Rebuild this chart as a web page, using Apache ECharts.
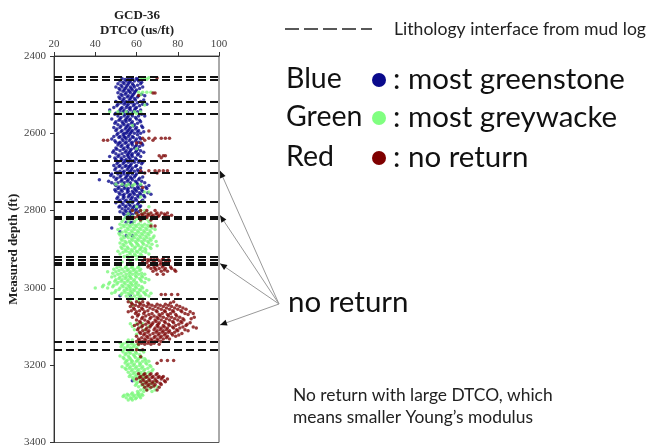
<!DOCTYPE html>
<html><head><meta charset="utf-8">
<script src="https://cdn.jsdelivr.net/npm/echarts@6.0.0/dist/echarts.min.js"></script>
<style>html,body{margin:0;padding:0;background:#fff}#c{width:650px;height:448px}</style>
</head><body><div id="c"></div>
<script>
// Axis ticks
const xTicks = [20, 40, 60, 80, 100];
const yTicks = [2400, 2600, 2800, 3000, 3200, 3400];
// Lithology interfaces from mud log (depth, ft)
const interfaces = [2454, 2461, 2519, 2550, 2670, 2701, 2778, 2815, 2822, 2920, 2927, 2934, 2940, 3029, 3139, 3159];
// Arrow target depths (no return zones) on right border
const arrowDepths = [2697, 2812, 2937, 3096];
// Rows: [depth, DTCO values...]
const blueRows = [
[2458,53,56,58,60],[2465,52,55,57,59,61],[2472,51,54,56,58,62],[2480,50,53,55,57,59,63],
[2488,52,54,56,58,60],[2495,51,55,57,59],[2503,53,56,58,61,64],[2510,52,54,57,59],
[2518,50,53,55,58,62],[2525,51,54,56,59,63,65],[2533,49,53,55,57,60],[2540,47,52,54,57,59,62],
[2548,50,53,56,58],[2555,51,54,56,58,61,64],[2563,48,52,55,57,60],[2570,50,53,55,58,62],
[2578,51,54,56,59],[2585,49,52,55,57,60,63],[2593,50,53,56,58,61],[2600,51,54,55,57,59,62],
[2608,49,52,54,56,58],[2615,48,53,55,57,60,62],[2623,50,52,55,58,61],[2630,51,53,56,58,60,63],
[2638,50,54,56,59],[2645,49,52,55,57,60,62],[2653,50,53,56,58,61],[2660,47,51,54,56,58,62],
[2668,50,53,55,57,60],[2675,51,54,56,59,61,63],[2683,49,52,55,57,60],[2690,50,53,56,58,62],
[2698,52,54,57,59,61],[2705,48,51,54,56,58,60],[2713,49,52,55,57,59,63],[2720,42,50,53,56,58,61],
[2728,48,51,54,57,60,64],[2735,50,53,55,58,62,66],[2743,51,54,56,59,61,65],[2750,50,53,56,58,60,63],
[2758,52,54,57,59,62,67],[2765,51,54,56,58,61,64],[2773,52,55,57,60,63],[2780,50,53,56,58,61],
[2788,52,55,57,59,62],[2795,53,56,58,60],[2803,52,55,57,61],[2810,54,56,58],[2818,55,57],
[2830,55,57,58],[2845,48],[2855,52],[2865,55,58],[3020,52,57],[3240,58],
[2461,54.5,57.5,60.5],[2468,53.5,56.5,62.5],[2476,52.5,55.5,58.5,60.5],[2484,51.5,54.5,57.5,61.5],
[2491,53.5,56.5,59.5],[2499,52.5,54.5,58.5,62.5],[2506,51.5,55.5,57.5,60.5],[2514,53.5,56.5,59.5,63.5],
[2521,52.5,54.5,57.5,60.5],[2529,50.5,55.5,58.5,61.5],[2536,52.5,56.5,59.5],[2544,51.5,53.5,55.5,58.5,60.5],
[2551,49.5,54.5,57.5,62.5],[2559,52.5,55.5,59.5],[2566,51.5,54.5,56.5,61.5],[2574,49.5,53.5,57.5,60.5],
[2581,52.5,55.5,58.5,62.5],[2589,50.5,54.5,56.5,59.5],[2596,52.5,55.5,57.5,60.5,63.5],[2604,50.5,53.5,56.5,60.5],
[2611,51.5,54.5,58.5,61.5],[2619,49.5,53.5,56.5,59.5],[2626,51.5,54.5,57.5,62.5],[2634,52.5,55.5,59.5,61.5],
[2641,50.5,53.5,57.5,60.5],[2649,48.5,54.5,56.5,59.5,63.5],[2656,51.5,55.5,57.5,60.5],[2664,49.5,52.5,56.5,59.5],
[2671,52.5,54.5,58.5,61.5],[2679,50.5,53.5,57.5,62.5],[2686,51.5,54.5,56.5,59.5],[2694,49.5,55.5,57.5,60.5],
[2701,50.5,53.5,56.5,62.5],[2709,47.5,52.5,55.5,59.5],[2716,50.5,54.5,57.5,61.5],[2724,46.5,52.5,55.5,59.5,62.5],
[2731,49.5,53.5,56.5,60.5],[2739,51.5,54.5,57.5,60.5,64.5],[2746,49.5,52.5,55.5,59.5,62.5],[2754,51.5,55.5,58.5,61.5,65.5],
[2761,53.5,56.5,60.5,63.5],[2769,50.5,53.5,57.5,59.5],[2776,51.5,54.5,58.5,62.5],[2784,53.5,56.5,60.5],
[2791,51.5,54.5,58.5,61.5],[2799,54.5,57.5,59.5],[2806,53.5,56.5,59.5],[2814,55.5,57.5]
];
const greenRows = [
[2456,62,64,66],[2460,63,65],[2494,61,63,65,67],[2500,62],[2527,64],[2544,47,51,55,59,62],
[2549,53,57,60],[2580,58],[2640,60],[2732,50,53,56,59,62],[2736,55,58],[2752,64,66],[2765,62],
[2778,57,63],[2790,60,66],[2800,58,62,64],[2808,56,60,63,66],[2815,55,58,61],[2822,54,57,60,63,65],
[2828,53,56,59,62,66],[2835,52,55,58,61,64,67],[2842,54,57,60,63,66],[2849,51,56,59,62,65,69],
[2856,53,55,58,61,64,67],[2863,52,57,60,63,66],[2870,54,56,59,62,65,68],[2877,53,58,61,64,67],
[2884,52,55,57,60,63,66],[2891,54,58,61,65,70],[2898,53,56,59,62,64,67],[2905,51,55,58,60,63],
[2912,52,57,59,62,66],[2919,54,58,61],[2926,56,60],[2933,53,57],[2945,52,55,58,61],
[2952,49,53,56,59,62],[2958,46,50,54,57,60],[2965,51,55,58,61,64],[2972,48,52,55,57,60,63],
[2979,50,53,56,59,62,66],[2986,47,51,54,57,60,64],[2993,44,49,53,56,58,61],[3000,40,46,52,55,57,60,63],
[3007,50,54,57,59,62,65],[3014,48,53,56,58,61,64,67],[3021,55,59,62,66],[3028,56,60,63],[3035,57,61],
[3045,58],[3093,57,60,63],[3100,58,62,66],[3108,59,64],[3120,60],[3135,56,58],
[3142,52,55,58],[3148,53,56,59,61],[3155,54,57,60],[3162,53,56,58,62],[3169,55,57,60],
[3176,52,56,59,62],[3183,54,57,61,64],[3190,55,58,60,63,66],[3197,56,59,62,65],[3204,53,57,60,63,67],
[3211,55,58,61,64,68],[3218,56,59,62,66],[3225,57,60,63],[3232,58,61,64],[3240,59,62,66],
[3248,60,63,67],[3256,61,64,68,70],[3264,62,65,69],[3272,58,61],[3278,54,56,59,61,63],
[3284,55,57,60,62],[3290,56,58],
[2838,53.5,56.5,59.5,62.5,65.5],[2845,52.5,55.5,58.5,61.5,64.5,67.5],[2852,54.5,57.5,60.5,63.5,66.5],
[2859,51.5,56.5,59.5,62.5,65.5],[2866,53.5,55.5,58.5,61.5,64.5,68.5],[2873,52.5,57.5,60.5,63.5,66.5],
[2880,54.5,56.5,59.5,62.5,65.5,69.5],[2887,53.5,57.5,60.5,63.5,67.5],[2894,52.5,55.5,59.5,62.5,66.5],
[2901,54.5,57.5,61.5,64.5],[2908,53.5,56.5,60.5,64.5],[2916,55.5,59.5,62.5],[2948,50.5,54.5,57.5,60.5],
[2955,51.5,55.5,58.5,61.5],[2962,48.5,52.5,56.5,59.5,62.5],[2969,49.5,53.5,56.5,59.5,62.5],
[2976,51.5,54.5,57.5,61.5,64.5],[2983,49.5,52.5,55.5,58.5,62.5],[2990,46.5,50.5,54.5,57.5,59.5],
[2997,43.5,48.5,53.5,56.5,59.5,62.5],[3004,51.5,55.5,58.5,61.5],[3011,49.5,54.5,57.5,60.5,63.5],
[3018,52.5,56.5,60.5,64.5],[3025,57.5,61.5],[3145,53.5,57.5,60.5],[3152,52.5,55.5,58.5],
[3159,54.5,57.5,60.5],[3166,53.5,56.5,59.5,63.5],[3173,54.5,58.5,61.5],[3180,53.5,56.5,59.5,62.5],
[3187,55.5,57.5,60.5,64.5],[3194,54.5,57.5,61.5,64.5],[3201,55.5,58.5,61.5,66.5],[3208,54.5,56.5,59.5,62.5,65.5],
[3215,57.5,60.5,63.5,67.5],[3222,58.5,61.5,64.5],[3229,56.5,59.5,62.5,65.5],[3236,58.5,61.5,63.5],
[3244,60.5,64.5,68.5],[3252,59.5,62.5,65.5],[3260,63.5,66.5],[3268,60.5,63.5,67.5],
[3275,55.5,57.5,60.5,62.5],[3281,53.5,58.5,61.5],[3287,57.5,59.5]
];
const redRows = [
[2457,70],[2496,68,69],[2502,61],[2594,66],[2613,63,66,69,72,74,76],[2618,44,46,64,68],[2625,60,62],
[2658,71,73,74],[2663,72],[2697,62,66,69,71,73,75],[2703,64,70],[2740,63],
[2800,58,62,65,69],[2806,60,64,67,70,72,75],[2812,61,63,66,68,71,74,77],[2818,59,65,69,73],[2824,62,67],
[2840,67,69],[2925,64,67,70,73],[2930,63,66,68,71,74,76],[2935,65,69,72,75],[2942,66,70,73],
[2950,67,69,71,74,77],[2957,68,72,75,79],[2965,70,73],[3017,72,74,77,80],
[3036,56,60,63,78],[3042,58,62,66,70,74],[3048,57,61,65,69,73,77,81],[3055,59,63,68,72,76,80,84],
[3062,56,60,64,70,74,78,82,86],[3069,61,66,71,75,79,85],[3076,58,63,67,70,73,77,81,88],
[3083,60,64,69,72,76,80,83],[3090,62,66,68,71,74,78,82,86],[3097,59,63,67,70,73,76,79,84],
[3104,61,65,69,72,75,78,81,89],[3111,63,66,70,73,76,80,85],[3118,62,64,68,71,74,77,82],
[3125,60,65,69,72,75,79],[3132,61,64,67,70,73,76],[3139,60,63,66,69,72],[3146,61,64,67,71],
[3160,60,63],[3178,62],[3188,72,75,78],[3195,70],
[3222,61,64,67,70],[3229,62,65,68,71,73],[3236,60,63,66,69,72,75],[3243,62,65,68,70,74],
[3250,63,66,69,72],[3257,64,67,71],[3264,65,70],
[2809,62.5,65.5,69.5,73.5],[2815,60.5,64.5,67.5,70.5,75.5],[2927,65.5,68.5,72.5,75.5],[2939,67.5,71.5,74.5],
[2946,65.5,68.5,72.5,76.5],[2954,69.5,73.5,78.5],[3039,57.5,61.5,65.5,76.5],[3045,59.5,63.5,67.5,71.5,75.5,79.5],
[3052,58.5,62.5,66.5,70.5,74.5,78.5,82.5],[3059,57.5,61.5,65.5,69.5,73.5,77.5,81.5],
[3066,59.5,63.5,67.5,72.5,76.5,83.5,87.5],[3073,60.5,64.5,68.5,71.5,75.5,79.5],
[3080,62.5,66.5,70.5,74.5,78.5,82.5,86.5],[3087,61.5,65.5,69.5,73.5,77.5,81.5],
[3094,60.5,64.5,67.5,70.5,75.5,80.5,84.5],[3101,62.5,66.5,70.5,73.5,77.5,82.5,87.5],
[3108,60.5,64.5,68.5,71.5,74.5,79.5,83.5],[3115,61.5,65.5,69.5,72.5,75.5,78.5],
[3122,63.5,66.5,70.5,73.5,77.5,80.5],[3129,62.5,65.5,68.5,71.5,74.5],[3136,61.5,64.5,67.5,70.5],
[3143,62.5,65.5,68.5],[3225,63.5,66.5,69.5],[3232,61.5,64.5,67.5,70.5,72.5],[3240,63.5,66.5,69.5,73.5],
[3247,64.5,67.5,71.5],[3254,65.5,68.5]
];
function toPts(rows){const out=[];rows.forEach(r=>{for(let i=1;i<r.length;i++)out.push([r[i],r[0]]);});return out;}

const chart = echarts.init(document.getElementById('c'), null, {renderer:'canvas'});
const serif = 'Liberation Serif';
chart.setOption({
  animation:false,
  backgroundColor:'#fff',
  grid:{left:54, top:56, width:165, height:391, show:true, borderColor:'#555', borderWidth:1, containLabel:false},
  xAxis:{type:'value', position:'top', min:20, max:100, interval:20,
    axisLine:{show:true, lineStyle:{color:'#333'}}, axisTick:{show:true, length:4, lineStyle:{color:'#333'}},
    axisLabel:{fontFamily:serif, fontSize:11, color:'#444', margin:6,
      formatter:v=>xTicks.indexOf(v)>=0?String(v):''},
    splitLine:{show:false}},
  yAxis:{type:'value', inverse:true, min:2400, max:3400, interval:200,
    name:'Measured depth (ft)', nameLocation:'middle', nameGap:32, nameRotate:90,
    nameTextStyle:{fontFamily:serif, fontSize:13, fontWeight:'bold', color:'#222'},
    axisLine:{show:true, lineStyle:{color:'#333'}}, axisTick:{show:true, length:4, lineStyle:{color:'#333'}},
    axisLabel:{fontFamily:serif, fontSize:11, color:'#444', margin:8,
      formatter:v=>yTicks.indexOf(v)>=0?String(v):''},
    splitLine:{show:false}},
  series:[
    {type:'scatter', data:toPts(blueRows), symbolSize:3.5, itemStyle:{color:'#0a0a8c'}, z:2, silent:true},
    {type:'scatter', data:toPts(greenRows), symbolSize:3.5, itemStyle:{color:'#7cf77c'}, z:3, silent:true},
    {type:'scatter', data:toPts(redRows), symbolSize:3.5, itemStyle:{color:'#7f0a0a'}, z:4, silent:true},
    {type:'scatter', data:[], z:6, silent:true,
      markLine:{silent:true, symbol:['none','none'], label:{show:false}, animation:false,
        lineStyle:{color:'#111', width:2, type:[8,4]},
        data:interfaces.map(d=>({yAxis:d}))}}
  ]
});

// Graphics
const g = [];
g.push({type:'text', x:137, y:16, style:{text:'GCD-36', font:'bold 13px "Liberation Serif"', fill:'#222', textAlign:'center', textVerticalAlign:'middle'}});
g.push({type:'text', x:137, y:31, style:{text:'DTCO (us/ft)', font:'bold 13px "Liberation Serif"', fill:'#222', textAlign:'center', textVerticalAlign:'middle'}});
g.push({type:'line', shape:{x1:285, y1:29, x2:372, y2:29}, style:{stroke:'#222', lineWidth:1.5, lineDash:[14,5]}});
g.push({type:'text', x:394, y:29, style:{text:'Lithology interface from mud log', font:'17.6px Lato', fill:'#222', textVerticalAlign:'middle'}});
const leg = [['Blue','#0a0a8c',': most greenstone',79],['Green','#80ff80',': most greywacke',117],['Red','#7f0000',': no return',157]];
leg.forEach(l=>{
  g.push({type:'text', x:286, y:l[3], style:{text:l[0], font:'28.5px Lato', fill:'#111', textVerticalAlign:'middle'}});
  g.push({type:'circle', shape:{cx:379, cy:l[3]+1, r:7}, style:{fill:l[1]}});
  g.push({type:'text', x:393, y:l[3], style:{text:l[2], font:'29.5px Lato', fill:'#111', textVerticalAlign:'middle'}});
});
g.push({type:'text', x:288, y:302, style:{text:'no return', font:'29.5px Lato', fill:'#111', textVerticalAlign:'middle'}});
g.push({type:'text', x:293, y:395, style:{text:'No return with large DTCO, which', font:'17.4px Lato', fill:'#222', textVerticalAlign:'middle'}});
g.push({type:'text', x:293, y:417, style:{text:'means smaller Young\u2019s modulus', font:'17.4px Lato', fill:'#222', textVerticalAlign:'middle'}});
const O=[279,304];
arrowDepths.forEach(d=>{
  const T = chart.convertToPixel({xAxisIndex:0, yAxisIndex:0}, [100, d]);
  T[0]+=1;
  g.push({type:'line', z:10, shape:{x1:O[0], y1:O[1], x2:T[0], y2:T[1]}, style:{stroke:'#999', lineWidth:1}});
  const dx=T[0]-O[0], dy=T[1]-O[1], L=Math.hypot(dx,dy), ux=dx/L, uy=dy/L, nx=-uy, ny=ux;
  const bx=T[0]-7*ux, by=T[1]-7*uy;
  g.push({type:'polygon', z:11, shape:{points:[[T[0],T[1]],[bx+3*nx,by+3*ny],[bx-3*nx,by-3*ny]]}, style:{fill:'#111'}});
});
chart.setOption({graphic:g});
</script>
</body></html>
